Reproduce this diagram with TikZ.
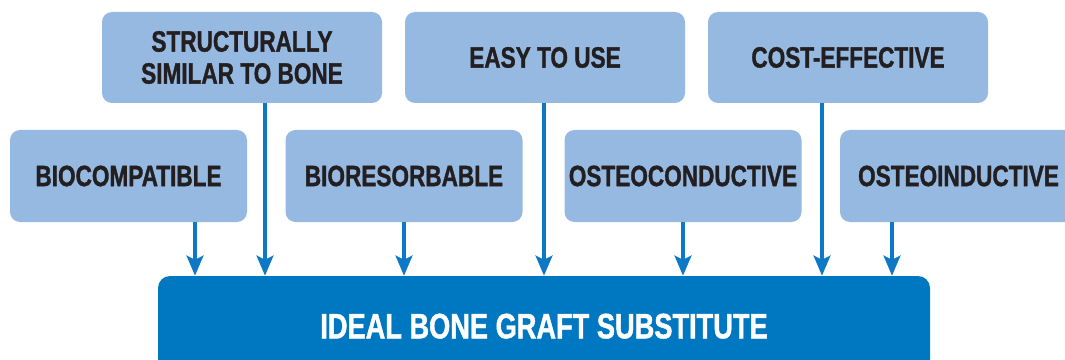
\documentclass[tikz,border=0pt]{standalone}
\usepackage{fontspec}
\setmainfont{Liberation Sans}[FakeStretch=0.77, FakeBold=1.2]
\usetikzlibrary{arrows.meta}

\definecolor{boxlight}{HTML}{95B9E1}
\definecolor{boxdark}{HTML}{0078C1}
\definecolor{arrblue}{HTML}{0D79C6}
\definecolor{inkdark}{HTML}{231F20}

\tikzset{
  prop/.style={fill=boxlight, rounded corners=7.5pt, text=inkdark, align=center,
    font=\fontsize{22}{24}\selectfont\bfseries, inner sep=0pt},
  toprop/.style={prop, minimum width=210pt, minimum height=68.25pt},
  lowprop/.style={prop, minimum width=177.75pt, minimum height=69pt},
  goal/.style={fill=boxdark, rounded corners=9pt, text=white,
    font=\fontsize{26.5}{29}\selectfont\bfseries, minimum width=579pt, minimum height=78pt, inner sep=0pt},
  arr/.style={draw=arrblue, line width=3pt, -{Stealth[length=15pt, width=12.5pt, inset=3pt]}}
}

\begin{document}
\begin{tikzpicture}[x=0.75pt, y=-0.75pt]
  \useasboundingbox (0,0) rectangle (1065,360);
  \clip (0,0) rectangle (1065,360);

  % top row
  \node[toprop] (struct) at (242,57.5) {STRUCTURALLY\\SIMILAR TO BONE};
  \node[toprop] (easy) at (545,57.5) {EASY TO USE};
  \node[toprop] (cost) at (848,57.5) {COST-EFFECTIVE};

  % second row
  \node[lowprop] (biocomp) at (128.5,176) {BIOCOMPATIBLE};
  \node[lowprop] (biores) at (404,176) {BIORESORBABLE};
  \node[lowprop] (osteocon) at (683,176) {OSTEOCONDUCTIVE};
  \node[lowprop] (osteoind) at (958.5,176) {OSTEOINDUCTIVE};

  % target
  \node[goal] (ideal) at (544,328) {\raisebox{3pt}{IDEAL BONE GRAFT SUBSTITUTE}};

  % arrows
  \draw[arr] (biocomp.south -| 195,0) -- (ideal.north -| 195,0);
  \draw[arr] (struct.south -| 265,0) -- (ideal.north -| 265,0);
  \draw[arr] (biores.south) -- (ideal.north -| biores.south);
  \draw[arr] (easy.south -| 544,0) -- (ideal.north -| 544,0);
  \draw[arr] (osteocon.south) -- (ideal.north -| osteocon.south);
  \draw[arr] (cost.south -| 822,0) -- (ideal.north -| 822,0);
  \draw[arr] (osteoind.south -| 892,0) -- (ideal.north -| 892,0);
\end{tikzpicture}
\end{document}
